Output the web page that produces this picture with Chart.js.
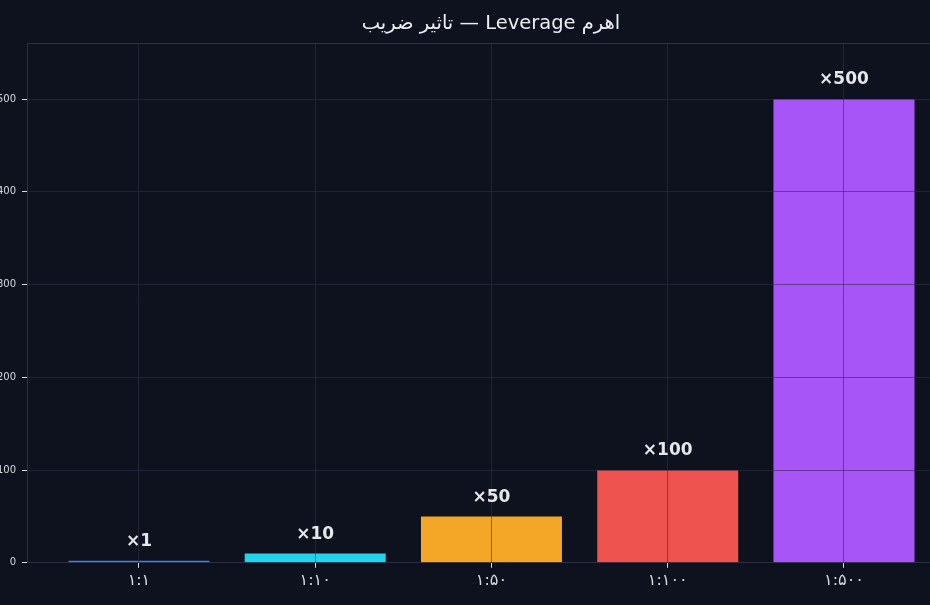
<!DOCTYPE html>
<html>
<head>
<meta charset="utf-8">
<script src="https://cdn.jsdelivr.net/npm/chart.js@4/dist/chart.umd.min.js"></script>
<style>
  html, body { margin: 0; padding: 0; background: #0d121e; overflow: hidden; }
  #wrap { position: absolute; left: -3px; top: 0; width: 988px; height: 605px; }
</style>
</head>
<body>
<div id="wrap"><canvas id="chart"></canvas></div>
<script>
// Leverage levels and what each one multiplies
const categories = ['۱:۱', '۱:۱۰', '۱:۵۰', '۱:۱۰۰', '۱:۵۰۰'];
const multipliers = [1, 10, 50, 100, 500];
const valueLabels = ['×1', '×10', '×50', '×100', '×500'];
const barColors = ['#3b82f6', '#22d3ee', '#f4a626', '#ef5350', '#a855f7'];
const yTicks = [0, 100, 200, 300, 400, 500];

const gridColor = 'rgba(40, 42, 62, 0.55)';
const borderColor = '#2a3042';
const textColor = '#d6d9e0';

// grid lines go over the bars too, so draw them again (clipped to the plot)
const gridOnTop = {
  id: 'gridOnTop',
  afterDatasetsDraw(chart) {
    const { ctx, chartArea } = chart;
    ctx.save();
    ctx.beginPath();
    ctx.rect(chartArea.left, chartArea.top, chartArea.right - chartArea.left, chartArea.bottom - chartArea.top);
    ctx.clip();
    chart.scales.x.drawGrid(chartArea);
    chart.scales.y.drawGrid(chartArea);
    ctx.restore();
  }
};

// value text above every bar
const barLabels = {
  id: 'barLabels',
  afterDraw(chart) {
    const ctx = chart.ctx;
    const meta = chart.getDatasetMeta(0);
    ctx.save();
    ctx.font = 'bold 17px "DejaVu Sans"';
    ctx.fillStyle = '#e5e7eb';
    ctx.textAlign = 'center';
    ctx.textBaseline = 'middle';
    meta.data.forEach((bar, i) => {
      ctx.fillText(valueLabels[i], bar.x, bar.y - 19);
    });
    ctx.restore();
  }
};

// thin frame line on top of the plot
const topFrame = {
  id: 'topFrame',
  afterDraw(chart) {
    const { ctx, chartArea } = chart;
    ctx.save();
    ctx.strokeStyle = borderColor;
    ctx.lineWidth = 1;
    ctx.beginPath();
    ctx.moveTo(chartArea.left, Math.round(chartArea.top) + 0.5);
    ctx.lineTo(chartArea.right, Math.round(chartArea.top) + 0.5);
    ctx.stroke();
    ctx.restore();
  }
};

new Chart(document.getElementById('chart'), {
  type: 'bar',
  data: {
    datasets: [{
      data: multipliers.map((v, i) => ({ x: i, y: v })),
      backgroundColor: barColors,
      borderWidth: 0,
      minBarLength: 2,
      categoryPercentage: 1,
      barPercentage: 0.8
    }]
  },
  options: {
    responsive: true,
    maintainAspectRatio: false,
    animation: false,
    layout: { padding: { left: 0, right: 0, top: 0, bottom: 12 } },
    plugins: {
      legend: { display: false },
      tooltip: { enabled: false },
      title: {
        display: true,
        text: 'تاثیر ضریب — Leverage اهرم',
        color: '#eceef2',
        font: { family: 'DejaVu Sans', size: 19.5, weight: 'normal' },
        padding: { top: 12, bottom: 8 }
      }
    },
    scales: {
      x: {
        type: 'linear',
        min: -0.635,
        max: 4.8,
        offset: false,
        grid: { color: gridColor, tickColor: textColor, tickLength: 5, offset: false },
        border: { display: true, color: borderColor },
        ticks: {
          stepSize: 1,
          includeBounds: false,
          autoSkip: false,
          maxRotation: 0,
          padding: 3,
          color: textColor,
          font: { family: 'DejaVu Sans', size: 16 },
          callback: v => categories[v] ?? ''
        }
      },
      y: {
        min: 0,
        max: 560,
        afterFit: s => { s.width = 30; },
        afterBuildTicks: s => { s.ticks = yTicks.map(v => ({ value: v })); },
        grid: { color: gridColor, tickColor: textColor, tickLength: 5 },
        border: { display: true, color: borderColor },
        ticks: {
          padding: 6,
          color: textColor,
          font: { family: 'DejaVu Sans', size: 10 }
        }
      }
    }
  },
  plugins: [gridOnTop, barLabels, topFrame]
});
</script>
</body>
</html>
